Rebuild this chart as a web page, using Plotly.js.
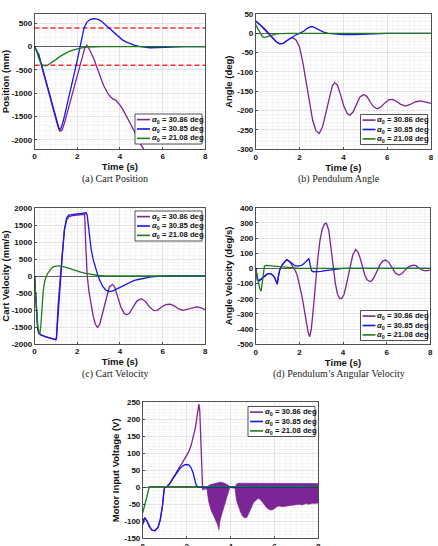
<!DOCTYPE html>
<html><head><meta charset="utf-8">
<script src="https://cdn.plot.ly/plotly-3.0.1.min.js"></script>
<style>html,body{margin:0;padding:0;background:#fff;}#chart{width:438px;height:546px;}</style>
</head><body><div id="chart"></div>
<script>
// ---------------- DATA ----------------
const seriesLabels = ['30.86', '30.85', '21.08'];
const timeTicks = [0, 2, 4, 6, 8];
const posTicks = [-2000, -1500, -1000, -500, 0, 500];
const angTicks = [-300, -250, -200, -150, -100, -50, 0, 50];
const velTicks = [-2000, -1500, -1000, -500, 0, 500, 1000, 1500, 2000];
const angVelTicks = [-500, -400, -300, -200, -100, 0, 100, 200, 300, 400];
const voltTicks = [-150, -100, -50, 0, 50, 100, 150, 200, 250];

// (a) cart position, mm
const posPurpleT = [0,0.2,0.4,0.6,0.8,1.0,1.1,1.2,1.3,1.4,1.6,1.8,2.0,2.2,2.35,2.45,2.6,2.8,3.0,3.23,3.46,3.65,3.8,4.0,4.15,4.32,4.5,4.64,4.8,4.95,5.11,5.2];
const posPurple  = [0,-190,-530,-880,-1220,-1560,-1720,-1820,-1790,-1650,-1300,-950,-600,-250,-40,30,-85,-290,-546,-830,-1028,-1120,-1150,-1255,-1360,-1504,-1650,-1787,-1940,-2085,-2198,-2290];
const posBlueT = [0,0.2,0.5,0.8,1.0,1.1,1.16,1.22,1.3,1.4,1.6,1.8,2.0,2.1,2.2,2.32,2.45,2.6,2.75,2.9,3.1,3.3,3.5,3.7,3.9,4.1,4.3,4.5,4.7,4.9,5.1,5.4,5.8,6.2,6.6,7.0,8.0];
const posBlue  = [0,-170,-680,-1190,-1520,-1690,-1780,-1770,-1680,-1500,-1120,-720,-300,-80,150,400,520,580,598,595,560,480,390,300,220,150,95,55,25,5,-12,-25,-22,-12,-4,0,0];
const posGreenT = [0,0.1,0.2,0.3,0.4,0.5,0.6,0.8,1.0,1.2,1.4,1.6,1.8,2.0,2.2,2.5,2.8,3.2,8.0];
const posGreen  = [0,-100,-250,-360,-405,-415,-405,-350,-280,-210,-155,-110,-75,-48,-28,-10,-3,0,0];
const trackLimitT = [0, 8];
const trackUpper = [400, 400];
const trackLower = [-400, -400];

// (b) pendulum angle, deg
const angPurpleT = [0,0.2,0.4,0.6,0.8,0.95,1.1,1.25,1.4,1.55,1.7,1.85,2.0,2.15,2.3,2.45,2.6,2.75,2.9,3.05,3.2,3.35,3.5,3.6,3.72,3.87,4.02,4.17,4.3,4.45,4.6,4.75,4.92,5.07,5.22,5.38,5.55,5.72,5.9,6.07,6.24,6.4,6.6,6.84,7.05,7.3,7.53,7.75,8.0];
const angPurple  = [31,22,10,-3,-15,-23,-27,-26,-20,-14,-12,-18,-35,-75,-125,-180,-225,-252,-259,-242,-205,-165,-135,-128,-133,-158,-188,-207,-212,-203,-183,-165,-158,-163,-177,-190,-195,-190,-180,-172,-171,-175,-183,-188,-184,-177,-175,-178,-181];
const angBlueT = [0,0.2,0.4,0.6,0.8,0.95,1.1,1.25,1.4,1.6,1.8,2.0,2.2,2.35,2.5,2.6,2.75,2.9,3.1,3.3,3.6,4.0,4.5,5.0,5.5,6.0,8.0];
const angBlue  = [32,23,12,0,-13,-22,-27,-26,-20,-12,-5,0,6,13,17,17,13,8,3,0,-2,-3,-3,-2,-1,0,0];
const angGreenT = [0,0.1,0.2,0.3,0.38,0.5,0.7,0.9,1.1,1.5,8.0];
const angGreen  = [22,12,2,-8,-11,-9,-5,-2,-1,0,0];

// (c) cart velocity, mm/s
const velPurpleT = [0,0.05,0.1,0.15,0.2,0.3,0.5,0.7,0.9,1.0,1.03,1.1,1.2,1.3,1.4,1.5,1.6,1.8,2.0,2.2,2.35,2.4,2.47,2.55,2.65,2.75,2.85,2.95,3.05,3.2,3.35,3.5,3.65,3.75,3.9,4.05,4.2,4.32,4.45,4.6,4.8,5.0,5.2,5.4,5.6,5.75,5.95,6.15,6.35,6.55,6.75,6.95,7.15,7.35,7.6,7.8,8.0];
const velPurple  = [0,-600,-1200,-1550,-1690,-1730,-1780,-1820,-1850,-1870,-1800,-900,-100,700,1350,1640,1740,1780,1795,1805,1815,900,0,-450,-850,-1180,-1420,-1510,-1430,-1080,-650,-330,-245,-320,-620,-920,-1100,-1140,-1090,-930,-730,-670,-750,-920,-1020,-1010,-910,-840,-825,-880,-970,-1010,-980,-930,-910,-940,-990];
const velBlueT = [0,0.05,0.1,0.15,0.2,0.3,0.5,0.7,0.9,1.0,1.03,1.1,1.2,1.3,1.4,1.5,1.6,1.8,2.0,2.2,2.42,2.47,2.55,2.65,2.75,2.85,2.95,3.05,3.2,3.35,3.5,3.65,3.8,4.0,4.2,4.4,4.6,4.8,5.0,5.2,5.4,5.6,5.8,6.0,6.3,6.6,7.0,8.0];
const velBlue  = [0,-600,-1200,-1550,-1690,-1730,-1780,-1820,-1850,-1875,-1820,-1100,-200,600,1350,1700,1790,1820,1830,1840,1860,1780,1250,800,480,250,60,-120,-310,-420,-455,-445,-400,-330,-260,-200,-150,-110,-80,-55,-35,-18,-5,5,10,8,3,0];
const velGreenT = [0,0.05,0.1,0.15,0.2,0.25,0.3,0.35,0.4,0.45,0.5,0.6,0.7,0.8,0.9,1.0,1.1,1.2,1.4,1.6,1.8,2.0,2.2,2.4,2.6,2.8,3.0,3.3,3.6,8.0];
const velGreen  = [0,-500,-1050,-1450,-1650,-1700,-1450,-900,-500,-250,-100,60,160,230,275,295,300,295,270,230,185,140,105,75,50,30,15,5,0,0];

// (d) pendulum angular velocity, deg/s
const angVelPurpleT = [0,0.03,0.08,0.15,0.25,0.4,0.55,0.7,0.85,0.95,0.99,1.03,1.1,1.2,1.3,1.42,1.5,1.6,1.7,1.8,1.9,2.0,2.1,2.2,2.3,2.4,2.47,2.55,2.65,2.75,2.85,2.95,3.05,3.15,3.24,3.35,3.45,3.55,3.65,3.75,3.85,3.94,4.05,4.15,4.25,4.35,4.45,4.58,4.7,4.8,4.9,5.0,5.1,5.27,5.4,5.55,5.7,5.82,5.95,6.1,6.25,6.4,6.56,6.7,6.85,7.0,7.22,7.35,7.5,7.65,7.79,7.95,8.0];
const angVelPurple  = [0,-40,-75,-82,-70,-50,-35,-35,-55,-90,-103,-60,-10,20,40,55,50,35,15,-10,-45,-100,-170,-250,-340,-420,-450,-400,-250,-80,70,190,260,292,298,250,130,10,-100,-170,-197,-198,-170,-110,-40,30,90,125,105,60,5,-45,-75,-88,-65,-20,25,48,55,40,5,-30,-44,-35,-10,10,22,18,0,-12,-16,-13,-12];
const angVelBlueT = [0,0.03,0.08,0.15,0.25,0.4,0.55,0.7,0.85,0.95,0.99,1.03,1.1,1.2,1.3,1.42,1.5,1.6,1.7,1.8,1.9,2.0,2.1,2.2,2.3,2.4,2.44,2.5,2.56,2.65,2.8,3.0,3.2,3.4,3.6,3.8,4.0,8.0];
const angVelBlue  = [0,-40,-75,-82,-70,-50,-35,-35,-55,-90,-103,-60,-10,20,40,58,52,40,28,18,15,15,20,30,42,58,65,20,-15,-22,-22,-20,-15,-10,-6,-3,0,0];
const angVelGreenT = [0,0.05,0.1,0.18,0.25,0.3,0.35,0.4,0.45,0.6,0.8,1.0,1.2,1.5,2.0,8.0];
const angVelGreen  = [0,-40,-85,-130,-150,-100,-20,15,20,18,14,10,6,3,0,0];

// (e) motor input voltage, V
const voltPurpleT = [0,0.05,0.1,0.2,0.3,0.4,0.55,0.7,0.8,0.9,0.97,1.0,1.1,1.2,1.3,1.4,1.5,1.6,1.7,1.8,1.9,2.0,2.1,2.2,2.3,2.4,2.48,2.56,2.6,2.65,2.7,2.73,2.8,2.92];
const voltPurple  = [-110,-95,-90,-100,-115,-125,-128,-118,-95,-55,-10,0,2,8,18,30,42,52,62,72,82,92,105,122,145,175,210,245,225,150,40,-5,-5,-3];
// purple chattering band after 2.9 s: upper and lower envelopes
const chatterT = [2.92,3.0,3.1,3.2,3.3,3.4,3.47,3.52,3.6,3.7,3.8,3.9,3.98,4.05,4.2,4.28,4.35,4.45,4.55,4.65,4.75,4.85,4.95,5.05,5.15,5.25,5.35,5.45,5.55,5.65,5.75,5.85,5.95,6.05,6.15,6.25,6.35,6.45,6.55,6.65,6.75,6.85,6.95,7.05,7.15,7.25,7.35,7.45,7.55,7.65,7.75,7.85,7.95,8.0];
const chatterUpper = [-3,5,8,10,12,14,16,15,15,13,10,6,0,-2,-2,10,12,12,12,11,12,12,13,12,12,12,13,12,12,11,12,12,11,12,12,11,12,12,11,12,11,12,11,12,11,12,11,12,11,12,11,12,11,10];
const chatterLower = [-3,-40,-65,-82,-95,-108,-125,-100,-80,-55,-35,-15,0,-2,-2,-40,-55,-72,-85,-90,-88,-75,-60,-45,-38,-33,-35,-42,-52,-60,-65,-67,-65,-60,-56,-55,-57,-58,-57,-56,-54,-52,-52,-51,-50,-52,-50,-48,-50,-49,-47,-48,-46,-48];
const voltBlueT = [0,0.05,0.1,0.2,0.3,0.4,0.55,0.7,0.8,0.9,0.97,1.0,1.1,1.2,1.3,1.4,1.5,1.6,1.7,1.8,1.9,2.0,2.1,2.2,2.3,2.38,2.45,2.55,8.0];
const voltBlue  = [-106,-93,-90,-100,-115,-125,-128,-118,-95,-55,-10,0,2,8,18,28,38,48,56,62,66,67,66,58,42,20,5,0,0];
const voltGreenT = [0,0.05,0.1,0.15,0.2,0.25,0.3,0.4,8.0];
const voltGreen  = [-75,-65,-50,-38,-25,-8,2,2,2];

// ---------------- STYLE / LAYOUT ----------------
const W = 438, H = 546;
const colPurple = '#7B2596', colBlue = '#1616EE', colGreen = '#1E7B1E', colRed = '#FF2A2A';
const seriesColors = [colPurple, colBlue, colGreen];
const fontFam = 'Liberation Sans, Arial, Helvetica, sans-serif';
const axisCol = '#262626', majorGrid = '#d8d8d8', minorGrid = '#eeeeee';
const lw = 1.3;

const panels = [
  {n:'',  box:[34.5,205.3,14,149],    yRange:[-2200,700], yTicks:posTicks,    yMinor:100, yTitle:'Position (mm)',           leg:[135,114],   cap:'(a) Cart Position', capXY:[114.5,179], xTitle:true},
  {n:'2', box:[255.7,431,14,149.3],   yRange:[-300,50],   yTicks:angTicks,    yMinor:10,  yTitle:'Angle (deg)',             leg:[360.5,114.5], cap:'(b) Pendulum Angle', capXY:[339,179], xTitle:true},
  {n:'3', box:[34.5,205.3,208,344],   yRange:[-2000,2000],yTicks:velTicks,    yMinor:100, yTitle:'Cart Velocity (mm/s)',    leg:[135,211],   cap:'(c) Cart Velocity', capXY:[114.5,374], xTitle:true},
  {n:'4', box:[255.7,430.3,207.7,344.3], yRange:[-500,400], yTicks:angVelTicks, yMinor:20, yTitle:'Angle Velocity (deg/s)', leg:[360.5,310.5], cap:'(d) Pendulum\u2019s Angular Velocity', capXY:[339,374], xTitle:true},
  {n:'5', box:[142.7,318.3,402.3,538.3], yRange:[-150,250], yTicks:voltTicks, yMinor:10,  yTitle:'Motor Input Voltage (V)', leg:[248,406.5], cap:null, xTitle:false}
];

const layout = {
  width: W, height: H, autosize: false,
  margin: {l:0, r:0, t:0, b:0, pad:0},
  paper_bgcolor: '#fff', plot_bgcolor: '#fff',
  showlegend: false, hovermode: false,
  font: {family: fontFam, size: 8, color: '#111', weight: 'bold'},
  shapes: [], annotations: []
};

panels.forEach(p => {
  const [l, r, t, b] = p.box;
  const xa = 'xaxis' + p.n, ya = 'yaxis' + p.n;
  const common = {
    showline: true, linecolor: axisCol, linewidth: 0.8, mirror: true,
    ticks: 'inside', ticklen: 2.5, tickwidth: 0.8, tickcolor: axisCol,
    showgrid: true, gridcolor: majorGrid, gridwidth: 0.6,
    tickfont: {family: fontFam, size: 8, color: '#111', weight: 'bold'},
    fixedrange: true
  };
  layout[xa] = Object.assign({}, common, {
    domain: [l / W, r / W], anchor: 'y' + p.n, range: [0, 8],
    tickmode: 'array', tickvals: timeTicks, ticktext: timeTicks.map(String),
    zeroline: false,
    minor: {tickmode: 'linear', tick0: 0, dtick: 0.25, showgrid: true, gridcolor: minorGrid, gridwidth: 0.5, ticks: ''}
  });
  if (p.xTitle) {
    layout[xa].title = {text: 'Time (s)', font: {family: fontFam, size: 9.5, color: '#111', weight: 'bold'}, standoff: 2};
  }
  layout[ya] = Object.assign({}, common, {
    domain: [1 - b / H, 1 - t / H], anchor: 'x' + p.n, range: p.yRange,
    tickmode: 'array', tickvals: p.yTicks, ticktext: p.yTicks.map(String),
    zeroline: true, zerolinecolor: '#3a3a3a', zerolinewidth: 0.8,
    minor: {tickmode: 'linear', tick0: 0, dtick: p.yMinor, showgrid: true, gridcolor: minorGrid, gridwidth: 0.5, ticks: ''},
    title: {text: p.yTitle, font: {family: fontFam, size: 9.5, color: '#111', weight: 'bold'}, standoff: 2}
  });

  // legend box (drawn as shapes + text)
  const [lx, ly] = p.leg;
  const bw = 67, bh = 30;
  layout.shapes.push({type: 'rect', xref: 'paper', yref: 'paper', layer: 'above',
    x0: lx / W, x1: (lx + bw) / W, y0: 1 - (ly + bh) / H, y1: 1 - ly / H,
    fillcolor: '#ffffff', line: {color: axisCol, width: 0.8}});
  seriesLabels.forEach((lab, i) => {
    const cy = ly + 5.6 + i * 9.4;
    layout.shapes.push({type: 'line', xref: 'paper', yref: 'paper', layer: 'above',
      x0: (lx + 2) / W, x1: (lx + 15) / W, y0: 1 - cy / H, y1: 1 - cy / H,
      line: {color: seriesColors[i], width: 1.6}});
    layout.annotations.push({xref: 'paper', yref: 'paper', x: (lx + 15.5) / W, y: 1 - cy / H,
      xanchor: 'left', yanchor: 'middle', showarrow: false, borderpad: 0,
      text: '<i>\u03b1</i><sub>0</sub> = ' + lab + ' deg',
      font: {family: fontFam, size: 7.7, color: '#111', weight: 'bold'}});
  });

  if (p.cap) {
    layout.annotations.push({xref: 'paper', yref: 'paper', x: p.capXY[0] / W, y: 1 - p.capXY[1] / H,
      xanchor: 'center', yanchor: 'middle', showarrow: false, text: p.cap,
      font: {family: 'Liberation Serif, DejaVu Serif, serif', size: 10, color: '#222', weight: 'normal'}});
  }
});

function line(x, y, color, n, extra) {
  return Object.assign({type: 'scatter', mode: 'lines', x: x, y: y, xaxis: 'x' + n, yaxis: 'y' + n,
    line: {color: color, width: lw}, hoverinfo: 'skip', showlegend: false}, extra || {});
}

const traces = [
  // (a)
  line(trackLimitT, trackUpper, colRed, '', {line: {color: colRed, width: 1.4, dash: '5px,3px'}}),
  line(trackLimitT, trackLower, colRed, '', {line: {color: colRed, width: 1.4, dash: '5px,3px'}}),
  line(posPurpleT, posPurple, colPurple, ''),
  line(posBlueT, posBlue, colBlue, ''),
  line(posGreenT, posGreen, colGreen, ''),
  // (b)
  line(angPurpleT, angPurple, colPurple, '2'),
  line(angBlueT, angBlue, colBlue, '2'),
  line(angGreenT, angGreen, colGreen, '2'),
  // (c)
  line(velPurpleT, velPurple, colPurple, '3'),
  line(velBlueT, velBlue, colBlue, '3'),
  line(velGreenT, velGreen, colGreen, '3'),
  // (d)
  line(angVelPurpleT, angVelPurple, colPurple, '4'),
  line(angVelBlueT, angVelBlue, colBlue, '4'),
  line(angVelGreenT, angVelGreen, colGreen, '4'),
  // (e)
  line(voltPurpleT, voltPurple, colPurple, '5'),
  line(chatterT.concat(chatterT.slice().reverse()), chatterUpper.concat(chatterLower.slice().reverse()), colPurple, '5',
       {fill: 'toself', fillcolor: colPurple, line: {color: colPurple, width: 0.6}}),
  line(voltBlueT, voltBlue, colBlue, '5'),
  line(voltGreenT, voltGreen, colGreen, '5')
];

Plotly.newPlot('chart', traces, layout, {staticPlot: true, displayModeBar: false});
</script>
</body></html>
